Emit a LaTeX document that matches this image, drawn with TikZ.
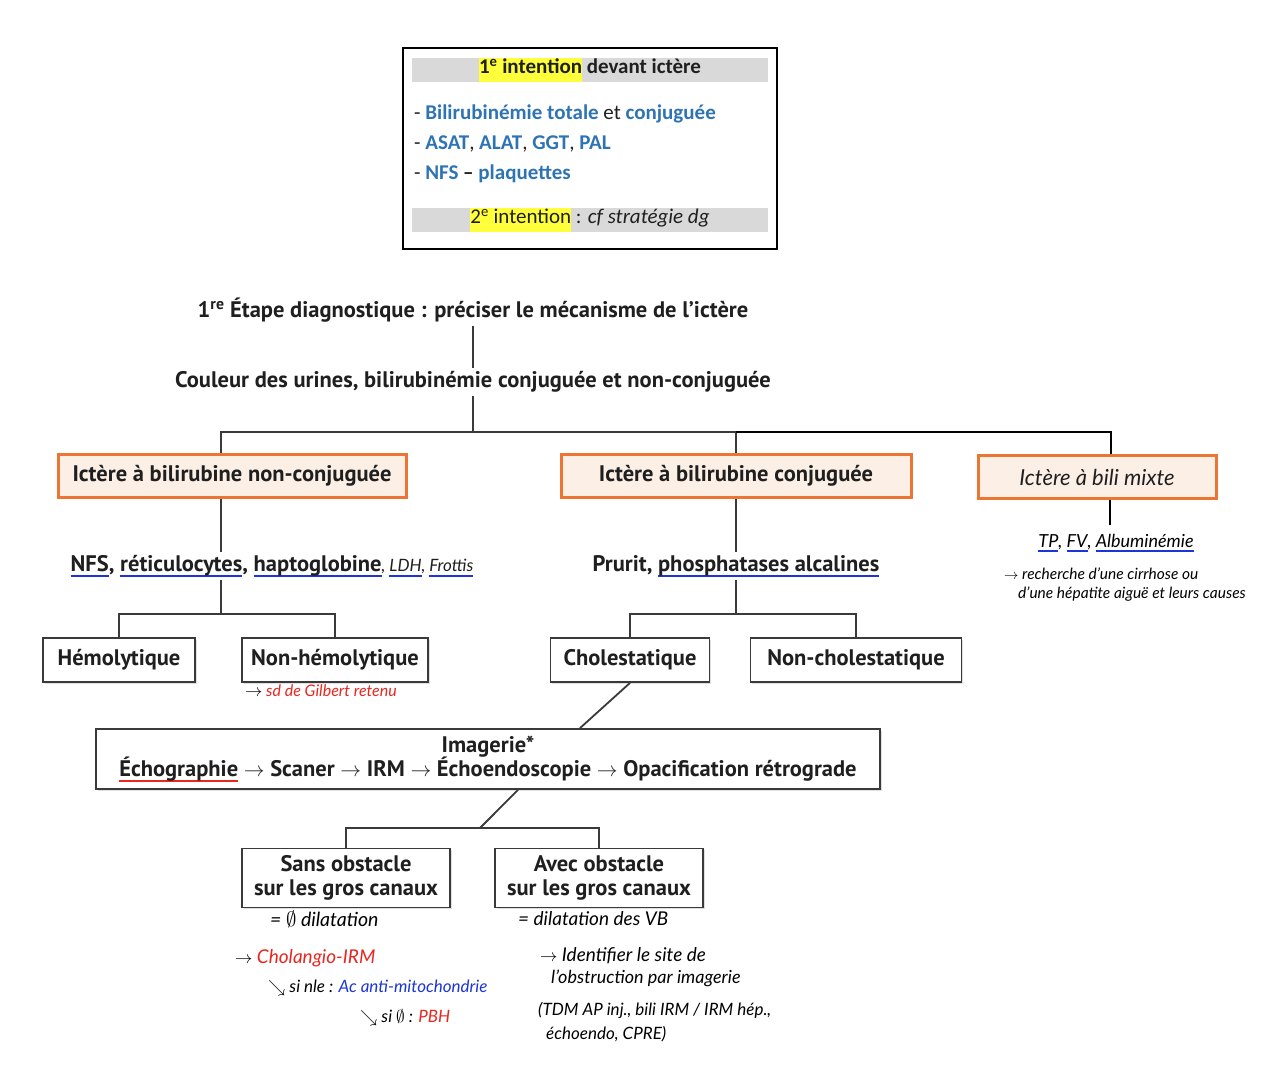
\documentclass[tikz,border=0pt]{standalone}
\usepackage{fontspec}
\usepackage{amssymb}
\setmainfont{PT Sans}
\newfontfamily\boxfont{Carlito}
\newfontfamily\handfont{Lato}
\usetikzlibrary{positioning, calc, shadows}
\definecolor{orangeline}{HTML}{EC7533}
\definecolor{peach}{HTML}{FCEFE6}
\definecolor{bargray}{HTML}{D9D9D9}
\definecolor{hlyellow}{HTML}{FFFF3B}
\definecolor{introblue}{HTML}{2E74B5}
\definecolor{penblue}{HTML}{1B35D8}
\definecolor{penred}{HTML}{E8271F}
\definecolor{linegray}{HTML}{3A3A3A}
\newcommand\hl[1]{{\setlength\fboxsep{0pt}\colorbox{hlyellow}{\rule[-8pt]{0pt}{24pt}#1}}}
\newcommand\penline[2]{\setbox0\hbox{#2}\rlap{\textcolor{#1}{\rule[-5pt]{\wd0}{2pt}}}\box0\relax}
\tikzset{
  flow/.style={
	x=1pt, y=-1pt, % pixel grid of the page
	every node/.style={text=black!88},
  },
  steptext/.style={font=\bfseries\fontsize{22.5}{26}\selectfont}, % plain labels of the tree
  orangebox/.style={draw=orangeline, fill=peach, line width=3pt, minimum height=43pt, inner sep=2pt,
	font=\bfseries\fontsize{22.5}{26}\selectfont, drop shadow={opacity=0.25, shadow xshift=1.5pt, shadow yshift=-1.5pt}},
  plainbox/.style={draw=linegray, fill=white, line width=1.8pt, minimum height=44pt, inner sep=2pt,
	font=\bfseries\fontsize{22.5}{26}\selectfont, drop shadow={opacity=0.25, shadow xshift=1.5pt, shadow yshift=-1.5pt}},
  twoline/.style={plainbox, align=center, font=\bfseries\fontsize{22.5}{24.5}\selectfont},
  branch/.style={draw=linegray, line width=1.8pt},
  bar/.style={fill=bargray, minimum width=356pt, minimum height=24pt, inner sep=0pt,
	font=\boxfont\fontsize{21}{24}\selectfont},
  listline/.style={anchor=west, inner sep=0pt, font=\boxfont\fontsize{21}{24}\selectfont},
  hand/.style={anchor=west, inner sep=0pt, text=black, font=\handfont\itshape\fontsize{17}{20}\selectfont},
}
\newcommand\bl[1]{\textcolor{introblue}{\bfseries #1}}
\begin{document}
\begin{tikzpicture}[flow]
	  \useasboundingbox[fill=white] (0,0) rectangle (1282,1078);
	  % first-line tests
	  \node[draw=black, line width=1.2pt, minimum width=374pt, minimum height=201pt] (intent) at (590,148.5) {};
	  \node[bar] (head1) at (590,70) {\bfseries\hl{1\textsuperscript{e} intention} devant ictère};
	  \node[listline] (test1) at (414,114) {- \bl{Bilirubinémie totale} et \bl{conjuguée}};
	  \node[listline] (test2) at (414,144) {- \bl{ASAT}, \bl{ALAT}, \bl{GGT}, \bl{PAL}};
	  \node[listline] (test3) at (414,174) {- \bl{NFS} \textbf{–} \bl{plaquettes}};
	  \node[bar] (head2) at (590,220) {\hl{2\textsuperscript{e} intention} : \textit{cf stratégie dg}};
	  % tree
	  \node[steptext] (etape) at (473,310) {1\textsuperscript{re} Étape diagnostique : préciser le mécanisme de l’ictère};
	  \node[steptext] (couleur) at (473,382) {Couleur des urines, bilirubinémie conjuguée et non-conjuguée};
	  \coordinate (split) at (473,432);
	  \node[orangebox, minimum width=348pt] (nonconj) at (232,476) {Ictère à bilirubine non-conjuguée};
	  \node[orangebox, minimum width=350pt] (conj) at (736,476) {Ictère à bilirubine conjuguée};
	  \node[orangebox, minimum width=238pt, font=\handfont\itshape\fontsize{22}{24}\selectfont] (mixte) at (1097,477) {Ictère à bili mixte};
	  \node[steptext] (nfs) at (272,566) {\penline{penblue}{NFS}, \penline{penblue}{réticulocytes}, \penline{penblue}{haptoglobine}{\handfont\itshape\mdseries\fontsize{17}{20}\selectfont, \penline{penblue}{LDH}, \penline{penblue}{Frottis}}};
	  \node[steptext] (prurit) at (736,566) {Prurit, \penline{penblue}{phosphatases alcalines}};
	  \coordinate (split2) at (221,614);
	  \coordinate (split3) at (736,614);
	  \node[plainbox, minimum width=152pt] (hemo) at (119,660) {Hémolytique};
	  \node[plainbox, minimum width=186pt] (nonhemo) at (335,660) {Non-hémolytique};
	  \node[plainbox, minimum width=159pt] (cholest) at (630,660) {Cholestatique};
	  \node[plainbox, minimum width=211pt] (nonchol) at (856,660) {Non-cholestatique};
	  \node[twoline, minimum width=784pt, minimum height=60pt] (imag) at (488,759)
		{Imagerie*\\\penline{penred}{Échographie} $\rightarrow$ Scaner $\rightarrow$ IRM $\rightarrow$ Échoendoscopie $\rightarrow$ Opacification rétrograde};
	  \coordinate (split4) at (480,828);
	  \node[twoline, minimum width=208pt, minimum height=59pt] (sans) at (346,878) {Sans obstacle\\sur les gros canaux};
	  \node[twoline, minimum width=208pt, minimum height=59pt] (avec) at (599,878) {Avec obstacle\\sur les gros canaux};
	  \draw[branch] (etape) -- (couleur);
	  \draw[branch] (couleur) -- (split);
	  \draw[branch] (split) -| ([xshift=-11pt]nonconj.north);
	  \draw[branch] (split) -| (conj.north);
	  \draw[black, line width=1.8pt] (conj.north |- split) -| ([xshift=14pt]mixte.north);
	  \draw[branch] ([xshift=-11pt]nonconj.south) -- ([xshift=-11pt]nonconj.south |- nfs.north);
	  \draw[branch] ([xshift=-11pt]nonconj.south |- nfs.south) -- (split2);
	  \draw[branch] (split2) -| (hemo.north);
	  \draw[branch] (split2) -| (nonhemo.north);
	  \draw[branch] (conj.south) -- (prurit.north);
	  \draw[branch] (prurit.south) -- (split3);
	  \draw[branch] (split3) -| (cholest.north);
	  \draw[branch] (split3) -| (nonchol.north);
	  \draw[branch] (cholest.south) -- ([xshift=92pt]imag.north);
	  \draw[branch] ([xshift=30pt]imag.south) -- (split4);
	  \draw[branch] (split4) -| (sans.north);
	  \draw[branch] (split4) -| (avec.north);
	  % handwritten notes
	  \node[hand, anchor=center, inner ysep=9pt, font=\handfont\itshape\fontsize{18}{20}\selectfont] (tpfv) at (1116,543) {\penline{penblue}{TP}, \penline{penblue}{FV}, \penline{penblue}{Albuminémie}};
	  \draw[black, line width=1.8pt] ([xshift=13pt]mixte.south) -- ([xshift=13pt]mixte.south |- tpfv.north);
	  \node[hand, font=\handfont\itshape\fontsize{15.5}{18}\selectfont] (cirrh1) at (1004,574) {$\rightarrow$ recherche d’une cirrhose ou};
	  \node[hand, font=\handfont\itshape\fontsize{15.5}{18}\selectfont] (cirrh2) at (1018,594) {d’une hépatite aiguë et leurs causes};
	  \node[hand, font=\handfont\itshape\fontsize{16}{18}\selectfont] (gilbert) at (245,691) {$\rightarrow$ \textcolor{penred}{sd de Gilbert retenu}};
	  \node[hand, font=\handfont\itshape\fontsize{19.5}{22}\selectfont] (sansdil) at (270,919) {= $\emptyset$ dilatation};
	  \node[hand, font=\handfont\itshape\fontsize{19}{22}\selectfont] (cholirm) at (235,958) {$\rightarrow$ \textcolor{penred}{Cholangio-IRM}};
	  \node[hand] (acam) at (268,988) {$\searrow$ si nle : \textcolor{penblue}{Ac anti-mitochondrie}};
	  \node[hand] (pbh) at (360,1018) {$\searrow$ si $\emptyset$ : \textcolor{penred}{PBH}};
	  \node[hand, font=\handfont\itshape\fontsize{19}{22}\selectfont] (avecdil) at (518,919) {= dilatation des VB};
	  \node[hand, font=\handfont\itshape\fontsize{19}{22}\selectfont] (site1) at (540,956) {$\rightarrow$ Identifier le site de};
	  \node[hand, font=\handfont\itshape\fontsize{18}{22}\selectfont] (site2) at (551,978) {l’obstruction par imagerie};
	  \node[hand] (site3) at (538,1010) {(TDM AP inj., bili IRM / IRM hép.,};
	  \node[hand] (site4) at (546,1034) {échoendo, CPRE)};
\end{tikzpicture}
\end{document}
